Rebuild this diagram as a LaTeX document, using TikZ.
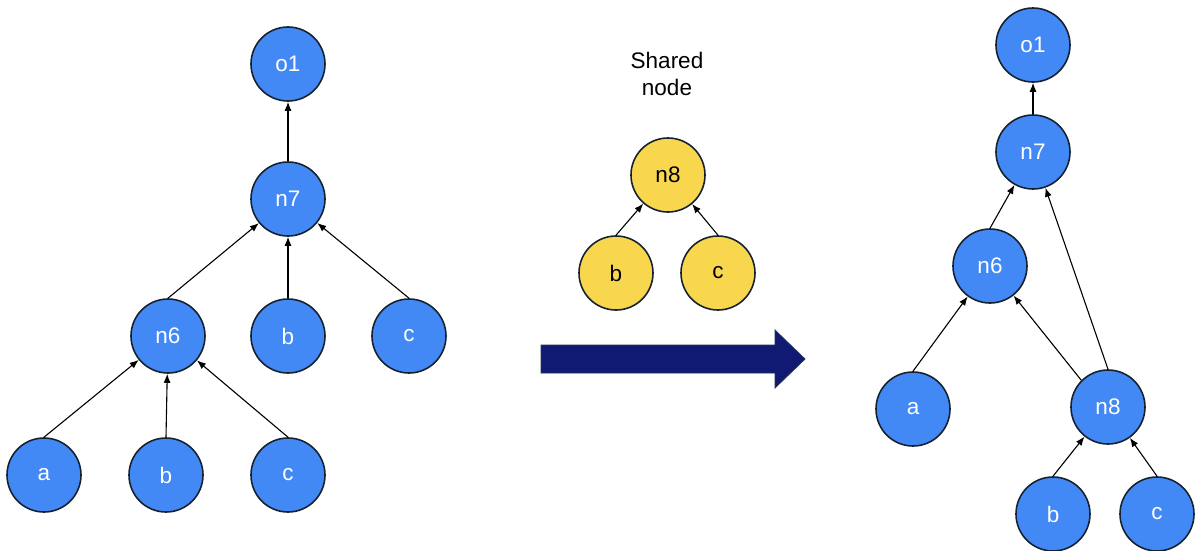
\documentclass[tikz,border=0pt]{standalone}
\usepackage{fontspec}
\setmainfont{Liberation Sans}
\usetikzlibrary{arrows.meta}
\definecolor{nodeblue}{RGB}{66,137,245}
\definecolor{nodeyellow}{RGB}{248,214,78}
\definecolor{rimdark}{RGB}{22,34,48}
\definecolor{navyfill}{RGB}{16,26,115}
\definecolor{navyrim}{RGB}{40,52,80}
\tikzset{
  vert/.style={circle, draw=rimdark, line width=1.6pt, minimum size=74pt, inner sep=0pt, font=\fontsize{22.5}{27}\selectfont},
  bluevert/.style={vert, fill=nodeblue, text=white},
  yellowvert/.style={vert, fill=nodeyellow, text=black},
  edge/.style={line width=1.1pt, -{Latex[length=9pt,width=7pt]}},
}
\begin{document}
\begin{tikzpicture}[x=1pt,y=-1pt]
\useasboundingbox (0,0) rectangle (1200,550);
\fill[white] (0,0) rectangle (1200,550);

% original tree
\node[bluevert] (Lo1) at (288,64) {o1};
\node[bluevert] (Ln7) at (288,199) {n7};
\node[bluevert] (Ln6) at (168,336) {n6};
\node[bluevert] (Lb1) at (288,336) {b};
\node[bluevert] (Lc1) at (409,336) {c};
\node[bluevert] (La)  at (44,475) {a};
\node[bluevert] (Lb2) at (166,475) {b};
\node[bluevert] (Lc2) at (288,475) {c};
\draw[edge] (Ln7.north) -- (Lo1);
\draw[edge] (Ln6.north) -- (Ln7);
\draw[edge] (Lb1.north) -- (Ln7);
\draw[edge] (Lc1.north) -- (Ln7);
\draw[edge] (La.north) -- (Ln6);
\draw[edge] (Lb2.north) -- (Ln6);
\draw[edge] (Lc2.north) -- (Ln6);

% shared subtree
\node[font=\fontsize{22.5}{27}\selectfont, align=center] (title) at (667,74) {Shared\\node};
\node[yellowvert] (Sn8) at (668,175) {n8};
\node[yellowvert] (Sb) at (616,273) {b};
\node[yellowvert] (Sc) at (718,273) {c};
\draw[edge] (Sb.north) -- (Sn8);
\draw[edge] (Sc.north) -- (Sn8);

% transformation arrow
\filldraw[fill=navyfill, draw=navyrim, line width=0.8pt]
  (541,345) -- (775,345) -- (775,330) -- (805,359) -- (775,388) -- (775,373) -- (541,373) -- cycle;

% rewritten tree
\node[bluevert] (Ro1) at (1033,45) {o1};
\node[bluevert] (Rn7) at (1033,152) {n7};
\node[bluevert] (Rn6) at (990,266) {n6};
\node[bluevert] (Ra)  at (913,409) {a};
\node[bluevert] (Rn8) at (1108,407) {n8};
\node[bluevert] (Rb)  at (1053,514) {b};
\node[bluevert] (Rc)  at (1157,514) {c};
\draw[edge] (Rn7.north) -- (Ro1);
\draw[edge] (Rn6.north) -- (Rn7);
\draw[edge] (Rn8.north) -- (Rn7);
\draw[edge] (Rn8.north west) -- (Rn6);
\draw[edge] (Ra.north) -- (Rn6);
\draw[edge] (Rb.north) -- (Rn8);
\draw[edge] (Rc.north) -- (Rn8);
\end{tikzpicture}
\end{document}
